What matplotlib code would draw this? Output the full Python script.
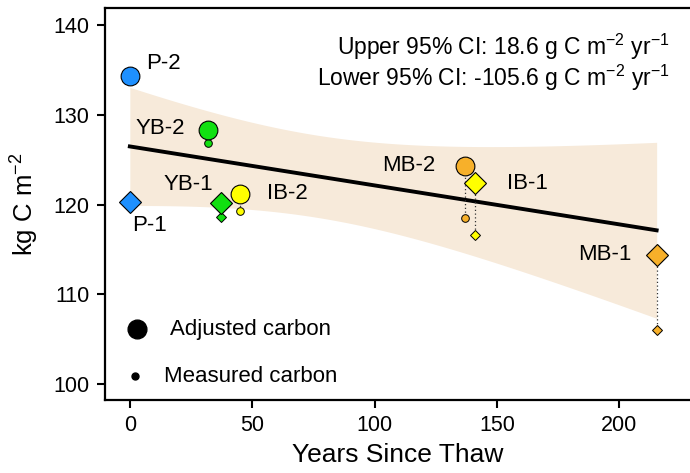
import numpy as np
import matplotlib.pyplot as plt

plt.rcParams['font.family'] = ['Liberation Sans', 'DejaVu Sans']
plt.rcParams['mathtext.fontset'] = 'custom'
plt.rcParams['mathtext.rm'] = 'Liberation Sans'
plt.rcParams['mathtext.it'] = 'Liberation Sans'

# ---- data ----
sites = ["P-2", "P-1", "YB-2", "YB-1", "IB-2", "MB-2", "IB-1", "MB-1"]
years = [0.0, 0.0, 32.1, 37.4, 45.2, 137.1, 141.2, 215.3]
adjusted_c = [134.3, 120.3, 128.3, 120.2, 121.2, 124.3, 122.4, 114.4]
measured_c = [134.3, 120.3, 126.9, 118.6, 119.3, 118.5, 116.6, 106.0]
shapes = ["o", "D", "o", "D", "o", "o", "D", "D"]
colours = ["#1E90FF", "#1E90FF", "#11E011", "#11E011",
           "#FFFF00", "#F7B02A", "#FFFF00", "#F7B02A"]
ci_text = ["Upper 95% CI: 18.6 g C m$^{-2}$ yr$^{-1}$",
           "Lower 95% CI: -105.6 g C m$^{-2}$ yr$^{-1}$"]
legend_labels = ["Adjusted carbon", "Measured carbon"]

# label offsets (points) from each adjusted point
label_off = [(24, 9), (14, -17), (-35, 1), (-24, 13), (34, 0), (-41, 0), (37.5, 0), (-37.5, 0)]

x = np.array(years)
y = np.array(adjusted_c)

# linear fit of adjusted carbon with 95% confidence band
n = len(x)
slope, icept = np.polyfit(x, y, 1)
resid = y - (icept + slope * x)
s = np.sqrt(np.sum(resid ** 2) / (n - 2))
sxx = np.sum((x - x.mean()) ** 2)
t95 = 2.446912  # t(0.975, df=6)
xf = np.linspace(x.min(), x.max(), 200)
yf = icept + slope * xf
se = s * np.sqrt(1.0 / n + (xf - x.mean()) ** 2 / sxx)

fig = plt.figure(figsize=(6.9, 4.73), dpi=100)
ax = fig.add_axes([0.152, 0.154, 0.85, 0.829])

ax.fill_between(xf, yf - t95 * se, yf + t95 * se, color="#F7EADA", lw=0, zorder=1)
ax.plot(xf, yf, color="black", lw=2.8, zorder=2)

for i in range(n):
    ax.plot([x[i], x[i]], [adjusted_c[i], measured_c[i]], ls=(0, (1, 2)),
            color="#333333", lw=0.9, zorder=3)
    big = 13.5 if shapes[i] == "o" else 11.5
    small = 5.5 if shapes[i] == "o" else 5.0
    ax.plot(x[i], measured_c[i], marker=shapes[i], ms=small, mfc=colours[i],
            mec="black", mew=0.7, ls="none", zorder=4)
    ax.plot(x[i], adjusted_c[i], marker=shapes[i], ms=big, mfc=colours[i],
            mec="black", mew=0.8, ls="none", zorder=5)
    ax.annotate(sites[i], (x[i], adjusted_c[i]), xytext=label_off[i],
                textcoords="offset points", ha="center", va="center",
                fontsize=16, zorder=6)

ax.text(0.963, 0.900, ci_text[0], transform=ax.transAxes, ha="right",
        va="center", fontsize=16.5)
ax.text(0.963, 0.821, ci_text[1], transform=ax.transAxes, ha="right",
        va="center", fontsize=16.5)

# size key, drawn in axes fractions
ax.plot(0.0547, 0.181, "o", color="black", ms=13.5, transform=ax.transAxes)
ax.plot(0.0513, 0.061, "o", color="black", ms=5, transform=ax.transAxes)
ax.text(0.111, 0.181, legend_labels[0], transform=ax.transAxes,
        va="center", fontsize=16)
ax.text(0.101, 0.061, legend_labels[1], transform=ax.transAxes,
        va="center", fontsize=16)

ax.set_xlim(-10.2, 229.5)
ax.set_ylim(98.2, 141.9)
ax.set_xticks([0, 50, 100, 150, 200])
ax.set_yticks([100, 110, 120, 130, 140])
ax.tick_params(labelsize=15.5, width=1.5, length=6, pad=5, direction="out")
for sp in ax.spines.values():
    sp.set_linewidth(1.6)
ax.spines["right"].set_visible(False)

ax.set_xlabel("Years Since Thaw", fontsize=19, labelpad=5)
ax.set_ylabel("kg C m$^{-2}$", fontsize=18.5, labelpad=9)

fig.savefig("out.png", dpi=100)
